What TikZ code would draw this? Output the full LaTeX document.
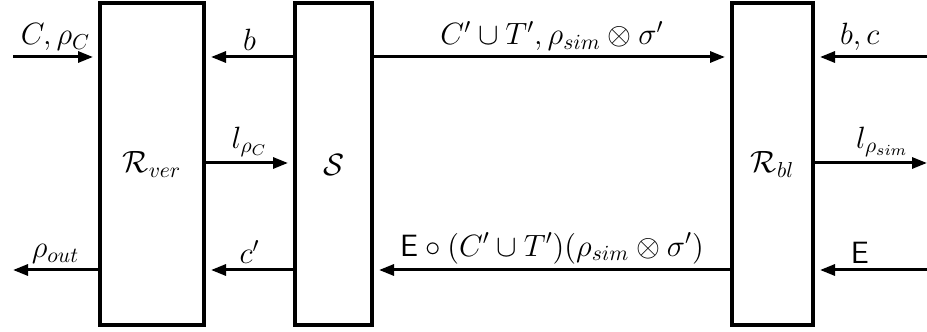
\documentclass[tikz,border=0pt]{standalone}
\usepackage{fix-cm}
\usepackage{amsmath,amssymb}
\usetikzlibrary{arrows.meta}
\tikzset{>={Triangle[length=7.5pt,width=5.5pt]},every node/.style={font=\fontsize{15.4}{18}\selectfont},blk/.style={draw,line width=2pt,minimum height=161pt,inner sep=0pt},flow/.style={line width=1.5pt,->,shorten >=2.5pt},lbl/.style={above=-1pt}}
\newcommand{\Rc}{\mathcal R}

\begin{document}
\begin{tikzpicture}[x=.5pt,y=.5pt]
\useasboundingbox (0,0) rectangle (927,332);
% blocks
\node[blk,minimum width=52pt] (ver) at (152,167.5) {$\Rc_{ver}$};
\node[blk,minimum width=38.5pt] (sim) at (333.5,167.5) {$\mathcal S$};
\node[blk,minimum width=40.5pt] (bl) at (772.5,167.5) {$\Rc_{bl}$};
% free ends
\coordinate (inC) at (13,275); \coordinate (outrho) at (13,62);
\coordinate (inbc) at (927,275); \coordinate (outl) at (927,169); \coordinate (inE) at (927,62);
% left
\draw[flow] (inC) -- (inC-|ver.west) node[midway,lbl]{$C,\rho_C$};
\draw[flow,shorten >=0pt] (outrho-|ver.west) -- (outrho) node[midway,lbl]{$\rho_{out}$};
% between R_ver and S
\draw[flow] (sim.west|-inC) -- (ver.east|-inC) node[midway,lbl]{$b$};
\draw[flow] (ver.east|-outl) -- (sim.west|-outl) node[midway,lbl]{$l_{\rho_C}$};
\draw[flow] (sim.west|-outrho) -- (ver.east|-outrho) node[midway,lbl]{$c'$};
% between S and R_bl
\draw[flow] (sim.east|-inC) -- (bl.west|-inC) node[midway,lbl]{$C'\cup T',\rho_{sim}\otimes\sigma'$};
\draw[flow] (bl.west|-outrho) -- (sim.east|-outrho) node[midway,lbl]{$\mathsf{E}\circ(C'\cup T')(\rho_{sim}\otimes\sigma')$};
% right
\draw[flow] (inbc) -- (bl.east|-inbc) node[pos=.6,lbl]{$b,c$};
\draw[flow,shorten >=0pt] (bl.east|-outl) -- (outl) node[pos=.6,lbl]{$l_{\rho_{sim}}$};
\draw[flow] (inE) -- (bl.east|-inE) node[pos=.6,lbl]{$\mathsf{E}$};
\end{tikzpicture}
\end{document}
